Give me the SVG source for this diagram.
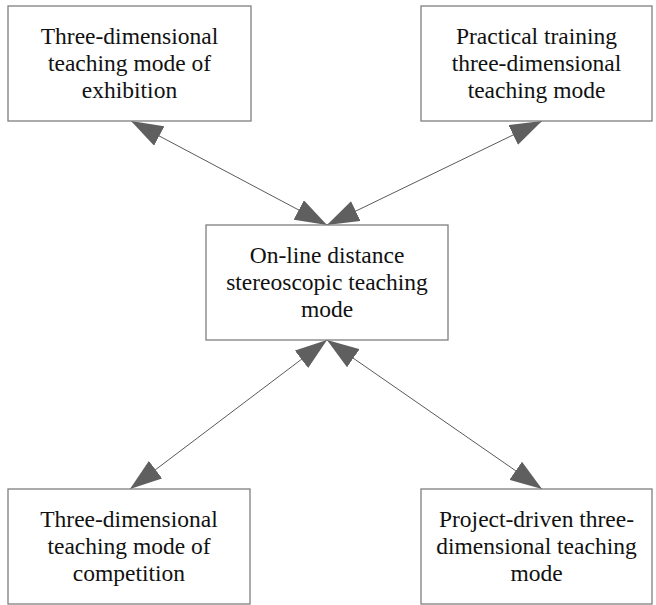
<svg xmlns="http://www.w3.org/2000/svg" width="656" height="605" viewBox="0 0 656 605">
  <style>
    .box { fill: #ffffff; stroke: #7f7f7f; stroke-width: 1.3; }
    .label { font-family: "Liberation Serif", "Times New Roman", serif; font-size: 23.5px; fill: #111111; text-anchor: middle; }
    .link { stroke: #5a5a5a; stroke-width: 1; fill: none; marker-start: url(#head); marker-end: url(#head); }
  </style>
  <defs>
    <marker id="head" markerUnits="userSpaceOnUse" markerWidth="32" markerHeight="22" refX="32" refY="11" orient="auto-start-reverse" viewBox="0 0 32 22">
      <path d="M0,0 L32,11 L0,22 Z" fill="#5f5f5f"/>
    </marker>
  </defs>
  <rect width="656" height="605" fill="#ffffff"/>

  <!-- two-way links between the central mode and the four others -->
  <g id="connectors">
    <line class="link" x1="131" y1="121" x2="327" y2="225"/>
    <line class="link" x1="542" y1="121" x2="327" y2="225"/>
    <line class="link" x1="130" y1="489" x2="327" y2="340"/>
    <line class="link" x1="542" y1="489" x2="327" y2="340"/>
  </g>

  <g id="exhibition">
    <rect class="box" x="8" y="6" width="243" height="115"/>
    <text class="label"><tspan x="129.5" y="44">Three-dimensional</tspan><tspan x="129.5" y="71">teaching mode of</tspan><tspan x="129.5" y="98">exhibition</tspan></text>
  </g>

  <g id="practical-training">
    <rect class="box" x="421" y="6" width="231" height="115"/>
    <text class="label"><tspan x="536.5" y="44">Practical training</tspan><tspan x="536.5" y="71">three-dimensional</tspan><tspan x="536.5" y="98">teaching mode</tspan></text>
  </g>

  <g id="online-distance">
    <rect class="box" x="206" y="225" width="242" height="115"/>
    <text class="label"><tspan x="327" y="263">On-line distance</tspan><tspan x="327" y="290">stereoscopic teaching</tspan><tspan x="327" y="317">mode</tspan></text>
  </g>

  <g id="competition">
    <rect class="box" x="8" y="489" width="242" height="115"/>
    <text class="label"><tspan x="129" y="527">Three-dimensional</tspan><tspan x="129" y="554">teaching mode of</tspan><tspan x="129" y="581">competition</tspan></text>
  </g>

  <g id="project-driven">
    <rect class="box" x="421" y="489" width="231" height="115"/>
    <text class="label"><tspan x="536.5" y="527">Project-driven three-</tspan><tspan x="536.5" y="554">dimensional teaching</tspan><tspan x="536.5" y="581">mode</tspan></text>
  </g>
</svg>
